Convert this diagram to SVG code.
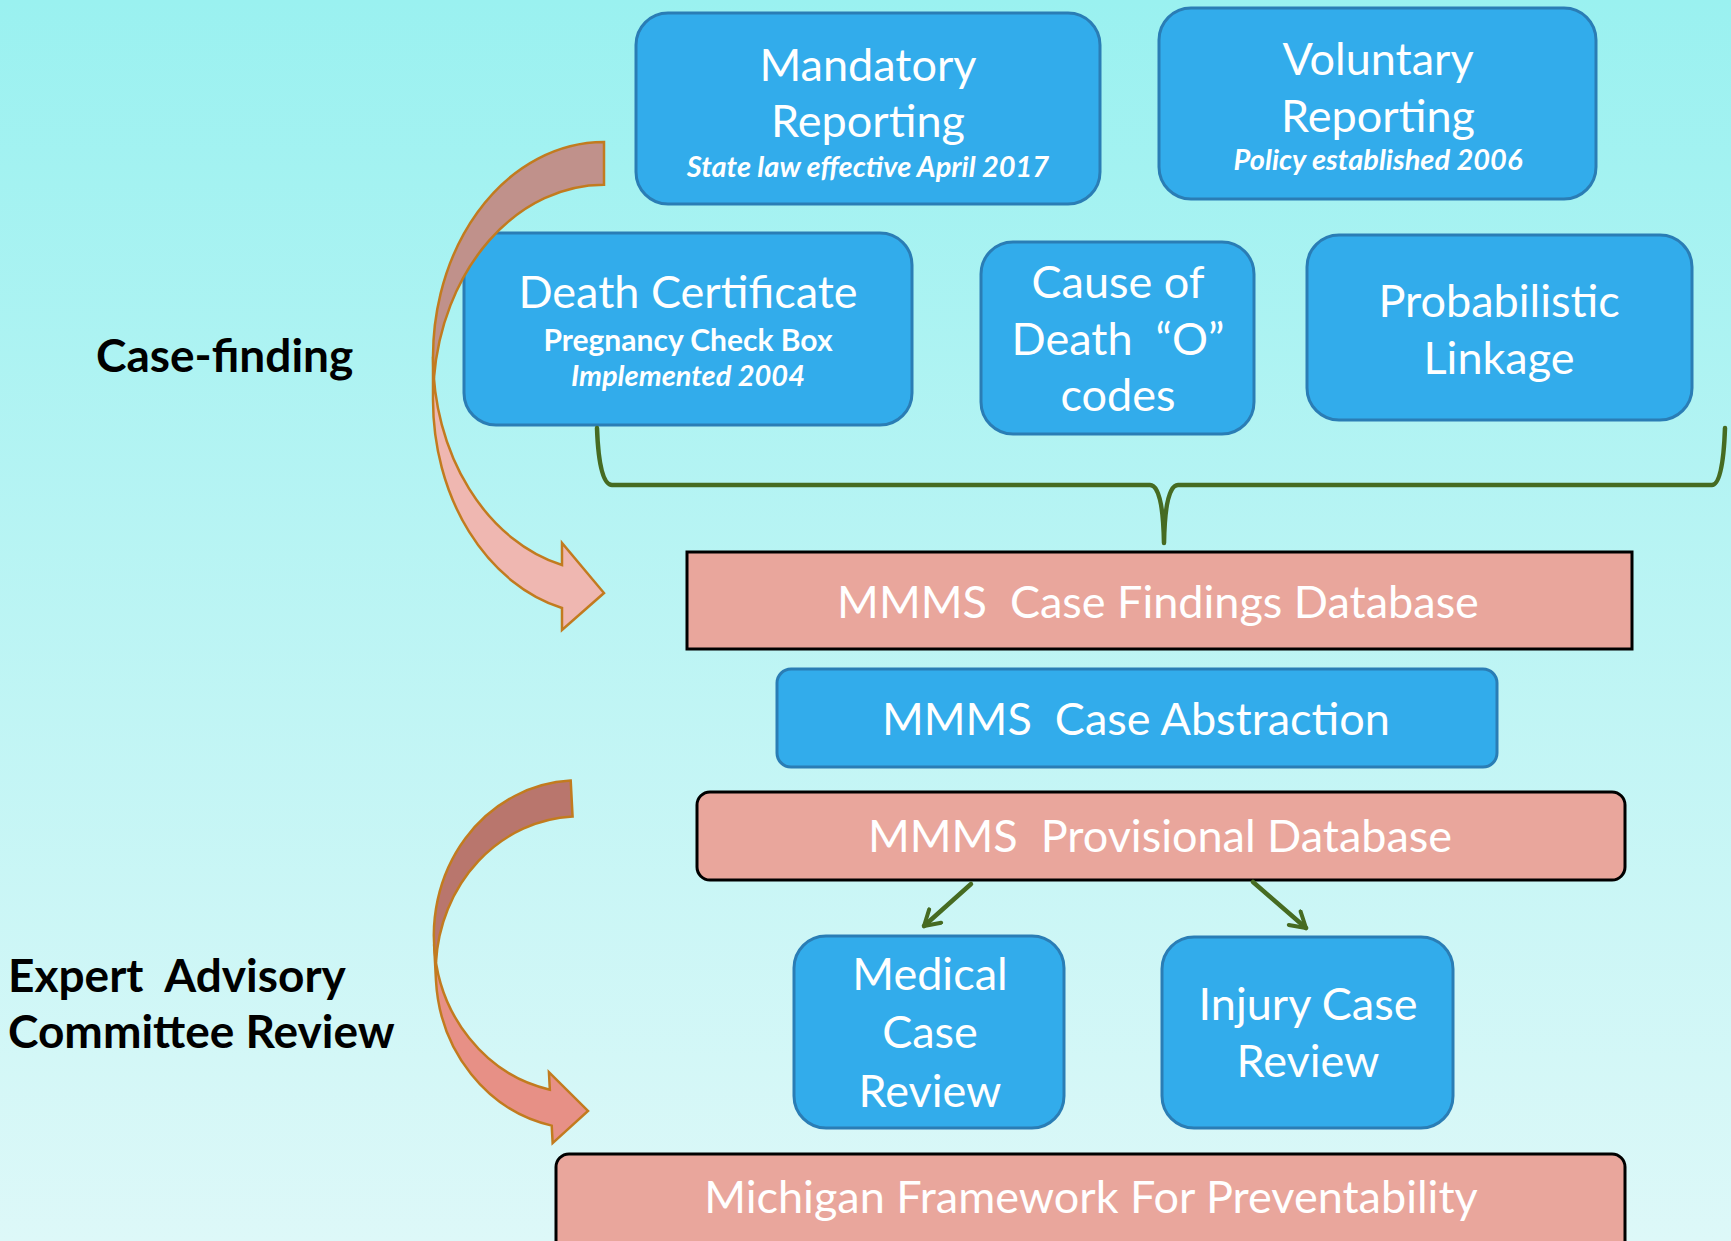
<svg xmlns="http://www.w3.org/2000/svg" width="1731" height="1241" viewBox="0 0 1731 1241">
<defs>
<linearGradient id="bg" x1="0" y1="0" x2="0" y2="1">
<stop offset="0" stop-color="#9AF1F0"/>
<stop offset="1" stop-color="#DDF8F8"/>
</linearGradient>
<marker id="ah" viewBox="0 0 22 22" refX="19" refY="11" markerWidth="22" markerHeight="22" markerUnits="userSpaceOnUse" orient="auto">
<path d="M4,2 L19,11 L4,20" fill="none" stroke="#466B22" stroke-width="4" stroke-linecap="round" stroke-linejoin="round"/>
</marker>
<style>
text{white-space:pre}
.blue{fill:#32ACEB;stroke:#2A7DB5;stroke-width:3}
.pink{fill:#E9A69C;stroke:#000;stroke-width:3}
.t{font-family:Lato,"Open Sans",sans-serif;font-size:45px;fill:#fff;text-anchor:middle}
.s{font-family:Lato,"Open Sans",sans-serif;font-size:29px;font-weight:bold;fill:#fff;text-anchor:middle}
.si{font-style:italic}
.lbl{font-family:Lato,"Open Sans",sans-serif;font-size:46px;font-weight:bold;fill:#000}
.br{fill:none;stroke:#466B22;stroke-width:4.5;stroke-linecap:round;stroke-linejoin:round}
.cn{stroke:#466B22;stroke-width:4.5;stroke-linecap:round}
.ar{stroke:#C27B1F;stroke-width:2.5;stroke-linejoin:miter}
</style>
</defs>
<rect x="0" y="0" width="1731" height="1241" fill="url(#bg)"/>

<g id="label-case-finding"><text class="lbl" x="96" y="372">Case-finding</text></g>
<g id="label-expert"><text class="lbl" x="8" y="992" xml:space="preserve">Expert  Advisory</text><text class="lbl" x="8" y="1048">Committee Review</text></g>

<g id="mandatory">
<rect class="blue" x="636" y="13" width="464" height="191" rx="32"/>
<text class="t" x="868" y="81">Mandatory</text>
<text class="t" x="868" y="137">Reporting</text>
<text class="s si" x="868" y="177">State law effective April 2017</text>
</g>
<g id="voluntary">
<rect class="blue" x="1159" y="8" width="437" height="191" rx="32"/>
<text class="t" x="1378" y="75">Voluntary</text>
<text class="t" x="1378" y="132">Reporting</text>
<text class="s si" x="1378" y="170">Policy established 2006</text>
</g>
<g id="death-certificate">
<rect class="blue" x="464" y="233" width="448" height="192" rx="32"/>
<text class="t" x="688" y="308">Death Certificate</text>
<text class="s" x="688" y="351" style="font-size:30px">Pregnancy Check Box</text>
<text class="s si" x="688" y="386">Implemented 2004</text>
</g>
<g id="cause-of-death">
<rect class="blue" x="981" y="242" width="273" height="192" rx="32"/>
<text class="t" x="1118" y="298">Cause of</text>
<text class="t" x="1118" y="355" xml:space="preserve">Death  “O”</text>
<text class="t" x="1118" y="411">codes</text>
</g>
<g id="probabilistic">
<rect class="blue" x="1307" y="235" width="385" height="185" rx="32"/>
<text class="t" x="1499" y="317">Probabilistic</text>
<text class="t" x="1499" y="374">Linkage</text>
</g>
<g id="case-findings-db">
<rect class="pink" x="687" y="552" width="945" height="97"/>
<text class="t" x="1158" y="618" xml:space="preserve">MMMS  Case Findings Database</text>
</g>
<g id="case-abstraction">
<rect class="blue" x="777" y="669" width="720" height="98" rx="14"/>
<text class="t" x="1136" y="735" xml:space="preserve">MMMS  Case Abstraction</text>
</g>
<g id="provisional-db">
<rect class="pink" x="697" y="792" width="928" height="88" rx="13"/>
<text class="t" x="1160" y="852" xml:space="preserve">MMMS  Provisional Database</text>
</g>
<g id="medical-review">
<rect class="blue" x="794" y="936" width="270" height="192" rx="32"/>
<text class="t" x="930" y="990">Medical</text>
<text class="t" x="930" y="1048">Case</text>
<text class="t" x="930" y="1107">Review</text>
</g>
<g id="injury-review">
<rect class="blue" x="1162" y="937" width="291" height="191" rx="32"/>
<text class="t" x="1308" y="1020">Injury Case</text>
<text class="t" x="1308" y="1077">Review</text>
</g>
<g id="michigan-framework">
<rect class="pink" x="556" y="1154" width="1069" height="100" rx="13"/>
<text class="t" x="1091" y="1213">Michigan Framework For Preventability</text>
</g>

<g id="connectors">
<path class="br" d="M597,428 Q599,485 612,485 L1150,485 Q1163,485 1164,543 Q1165,485 1178,485 L1712,485 Q1723,485 1725,428"/>
<line class="cn" x1="971" y1="884" x2="924" y2="926" marker-end="url(#ah)"/>
<line class="cn" x1="1253" y1="882" x2="1306" y2="928" marker-end="url(#ah)"/>
<g id="curved-arrow-top">
<path class="ar" fill="#EFB7B1" d="M433,356.8 A171 214.8 0 0 0 562,565 L562,543 L604,593 L562,630 L562,608 A171 214.8 0 0 1 433,399.8 Z"/>
<path class="ar" fill="#C0918B" d="M604,142 A171 214.8 0 0 0 433.9,378.3 A171 214.8 0 0 1 604,184.8 Z"/>
</g>
<g id="curved-arrow-bottom" transform="rotate(-3 510 960)">
<path class="ar" fill="#E79086" d="M435,940.4 A145 156.4 0 0 0 543,1091.6 L543,1074.1 L580,1114.8 L543,1145.1 L543,1127.6 A145 156.4 0 0 1 435,976.4 Z"/>
<path class="ar" fill="#B9766D" d="M580,784 A145 156.4 0 0 0 435.96,958.4 A145 156.4 0 0 1 580,820 Z"/>
</g>
</g>
</svg>
